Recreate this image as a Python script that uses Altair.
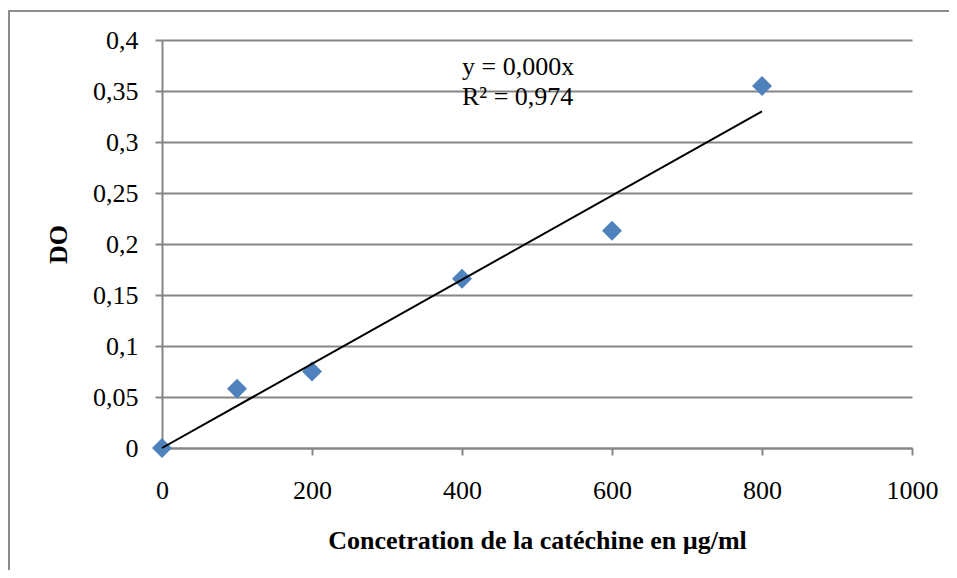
import altair as alt
import pandas as pd

conc = [0, 100, 200, 400, 600, 800]
do_vals = [0.0, 0.058, 0.075, 0.166, 0.213, 0.355]

trend_x = [0, 800]
trend_y = [0.0, 0.330]

eq_labels = ["y = 0,000x", "R² = 0,974"]
eq_x = [400, 400]
eq_y = [0.3735, 0.344]

FONT = "Liberation Serif"
GRAY = "#868686"

pts = pd.DataFrame({"x": conc, "y": do_vals})
trend = pd.DataFrame({"x": trend_x, "y": trend_y})
eq = pd.DataFrame({"label": eq_labels, "x": eq_x, "y": eq_y})

xscale = alt.Scale(domain=[0, 1000], nice=False, zero=False)
yscale = alt.Scale(domain=[0, 0.4], nice=False)

xaxis = alt.Axis(
    values=[0, 200, 400, 600, 800, 1000], format="d", grid=False,
    title="Concetration de la catéchine en µg/ml",
    titleFont=FONT, titleFontSize=26, titleFontWeight="bold", titleColor="black",
    titleX=375, titleY=92, titleBaseline="middle", titleAlign="center",
    labelFont=FONT, labelFontSize=26, labelColor="black", labelPadding=22,
    labelFlush=False, labelOverlap=False,
    domainColor=GRAY, domainWidth=2, tickColor=GRAY, tickWidth=2, tickSize=7,
)
yaxis = alt.Axis(
    values=[0, 0.05, 0.1, 0.15, 0.2, 0.25, 0.3, 0.35, 0.4],
    labelExpr="replace(format(datum.value, '~g'), '.', ',')",
    grid=True, gridColor=GRAY, gridWidth=2,
    title="DO",
    titleFont=FONT, titleFontSize=26, titleFontWeight="bold", titleColor="black",
    titleX=-104, titleY=204, titleAngle=270, titleBaseline="middle", titleAlign="center",
    labelFont=FONT, labelFontSize=26, labelColor="black", labelPadding=17,
    labelFlush=False, labelOverlap=False,
    domainColor=GRAY, domainWidth=2, tickColor=GRAY, tickWidth=2, tickSize=7,
)

points = alt.Chart(pts).mark_point(
    shape="diamond", filled=True, size=400, color="#4F81BD", opacity=1
).encode(
    x=alt.X("x:Q", scale=xscale, axis=xaxis),
    y=alt.Y("y:Q", scale=yscale, axis=yaxis),
)

line = alt.Chart(trend).mark_line(color="black", strokeWidth=2).encode(
    x=alt.X("x:Q", scale=xscale),
    y=alt.Y("y:Q", scale=yscale),
)

text = alt.Chart(eq).mark_text(
    font=FONT, fontSize=26, align="left", baseline="middle", color="black"
).encode(
    x=alt.X("x:Q", scale=xscale),
    y=alt.Y("y:Q", scale=yscale),
    text="label:N",
)

frame_left = alt.Chart(pts).mark_rule(color="#8c8c8c", strokeWidth=2).encode(
    x=alt.value(-153), y=alt.value(-29), y2=alt.value(600)
)
frame_top = alt.Chart(pts).mark_rule(color="#8c8c8c", strokeWidth=2).encode(
    x=alt.value(-154), x2=alt.value(900), y=alt.value(-29)
)

chart = alt.layer(frame_left, frame_top, points, line, text).properties(
    width=750, height=408,
    autosize=alt.AutoSizeParams(type="none"),
    padding={"left": 154, "top": 32, "right": 37, "bottom": 122},
).configure_view(stroke=None)

chart.save("out.html", embed_options={"renderer": "svg", "actions": False})
